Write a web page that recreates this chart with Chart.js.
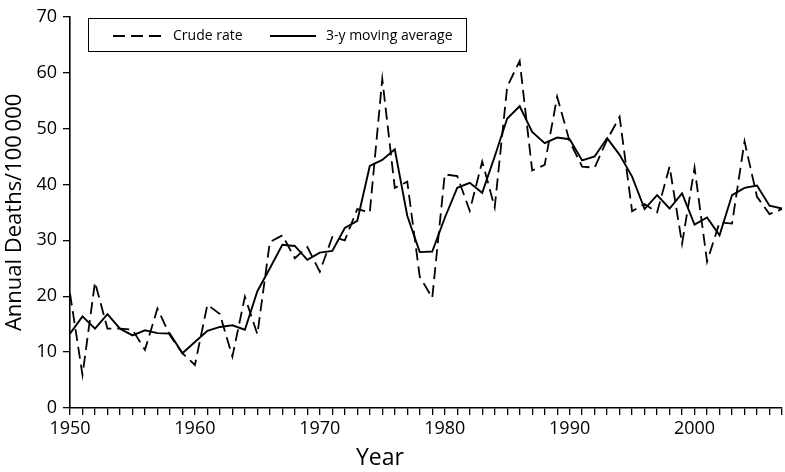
<!DOCTYPE html>
<html>
<head>
<meta charset="utf-8">
<script src="https://cdn.jsdelivr.net/npm/chart.js@4.4.0/dist/chart.umd.min.js"></script>
<style>
  body { margin: 0; background: #fff; }
  #wrap { position: relative; width: 785px; height: 472px; font-family: "Open Sans", sans-serif; }
  #legend { position: absolute; left: 88px; top: 18px; width: 379px; height: 34px; border: 1px solid #000; box-sizing: border-box; }
  .lbl { position: absolute; top: 7px; font-size: 14px; color: #000; line-height: 18px; }
  #xtitle { position: absolute; left: 330px; width: 100px; top: 440px; text-align: center; font-size: 23px; color: #000; }
</style>
</head>
<body>
<div id="wrap">
  <canvas id="chart" width="785" height="472"></canvas>
  <div id="legend">
    <svg style="position:absolute;left:24px;top:15px" width="50" height="4">
      <line x1="0" y1="2" x2="48" y2="2" stroke="#000" stroke-width="2" stroke-dasharray="12,6"></line>
    </svg>
    <span class="lbl" style="left:84px">Crude rate</span>
    <svg style="position:absolute;left:181px;top:15px" width="50" height="4">
      <line x1="0" y1="2" x2="46" y2="2" stroke="#000" stroke-width="2"></line>
    </svg>
    <span class="lbl" style="left:237px">3-y moving average</span>
  </div>
  <div id="xtitle">Year</div>
</div>
<script>
const years = [
  1950, 1951, 1952, 1953, 1954, 1955, 1956, 1957, 1958, 1959,
  1960, 1961, 1962, 1963, 1964, 1965, 1966, 1967, 1968, 1969,
  1970, 1971, 1972, 1973, 1974, 1975, 1976, 1977, 1978, 1979,
  1980, 1981, 1982, 1983, 1984, 1985, 1986, 1987, 1988, 1989,
  1990, 1991, 1992, 1993, 1994, 1995, 1996, 1997, 1998, 1999,
  2000, 2001, 2002, 2003, 2004, 2005, 2006, 2007
];

// crude rate
const crudeRate = [
  20.5, 5.9, 22.5, 14.2, 14.2, 14.0, 10.4, 17.8, 13.0, 9.8,
  7.7, 18.5, 16.8, 9.2, 19.9, 13.2, 29.7, 30.9, 26.8, 28.8,
  24.4, 30.6, 30.0, 35.6, 35.0, 58.9, 39.4, 40.5, 23.5, 19.7,
  41.8, 41.5, 35.3, 44.1, 35.9, 57.5, 62.1, 42.5, 43.5, 55.7,
  47.7, 43.2, 43.0, 48.0, 52.1, 35.2, 36.5, 35.0, 43.2, 29.4,
  43.0, 26.2, 33.2, 33.0, 47.7, 37.8, 34.7, 35.6
];

// 3-y moving average
const movingAverage = [
  13.3, 16.4, 14.2, 16.8, 14.2, 13.0, 13.9, 13.4, 13.3, 9.8,
  11.8, 13.8, 14.5, 14.8, 14.0, 20.9, 25.0, 29.2, 29.0, 26.5,
  27.8, 28.1, 32.2, 33.5, 43.3, 44.4, 46.3, 34.4, 27.9, 28.0,
  34.0, 39.4, 40.3, 38.5, 45.0, 51.8, 54.0, 49.4, 47.4, 48.4,
  48.1, 44.3, 45.0, 48.3, 45.3, 41.4, 35.6, 38.1, 35.7, 38.4,
  32.8, 34.1, 30.9, 38.1, 39.4, 39.8, 36.2, 35.7
];

const yTicks = [0, 10, 20, 30, 40, 50, 60, 70];

const toPoints = arr => years.map((yr, i) => ({ x: yr, y: arr[i] }));

const tickFont = { family: 'Open Sans', size: 18 };

const config = {
  type: 'line',
  data: {
    datasets: [
      {
        label: 'Crude rate',
        data: toPoints(crudeRate),
        borderColor: '#000',
        borderWidth: 1.8,
        borderDash: [12, 6],
        pointRadius: 0,
        tension: 0
      },
      {
        label: '3-y moving average',
        data: toPoints(movingAverage),
        borderColor: '#000',
        borderWidth: 1.9,
        pointRadius: 0,
        tension: 0
      }
    ]
  },
  options: {
    responsive: false,
    devicePixelRatio: 1,
    animation: false,
    layout: { padding: { top: 12, right: 2, left: 0, bottom: 0 } },
    plugins: { legend: { display: false }, tooltip: { enabled: false } },
    scales: {
      x: {
        type: 'linear',
        min: 1950,
        max: 2007,
        afterBuildTicks: scale => {
          scale.ticks = years.map(v => ({ value: v }));
        },
        afterFit: scale => { scale.height = 64; },
        ticks: {
          autoSkip: false,
          maxRotation: 0,
          padding: 3,
          color: '#000',
          font: tickFont,
          callback: v => (v % 10 === 0 ? String(v) : '')
        },
        grid: { drawOnChartArea: false, drawTicks: true, tickLength: 7, color: '#000', lineWidth: 1.3 },
        border: { display: true, color: '#000', width: 1.6 }
      },
      y: {
        min: 0,
        max: 70,
        afterBuildTicks: scale => {
          scale.ticks = yTicks.map(v => ({ value: v }));
        },
        afterFit: scale => { scale.width = 70; },
        ticks: { padding: 6, color: '#000', font: tickFont },
        grid: { drawOnChartArea: false, drawTicks: true, tickLength: 7, color: '#000', lineWidth: 1.3 },
        border: { display: true, color: '#000', width: 1.6 },
        title: {
          display: true,
          text: 'Annual Deaths/100\u2009000',
          color: '#000',
          font: { family: 'Open Sans', size: 22 },
          padding: { top: 2, bottom: 0 }
        }
      }
    }
  }
};

const myChart = new Chart(document.getElementById('chart'), config);
</script>
</body>
</html>
